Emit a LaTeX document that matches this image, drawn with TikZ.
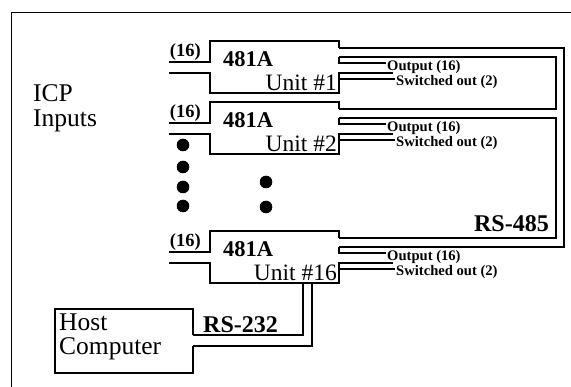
\documentclass[tikz,border=0pt]{standalone}
\usepackage{fontspec}
\setmainfont{Liberation Serif}
\tikzset{
  wire/.style={line width=1.15pt, line join=miter},
  icplbl/.style={inner sep=0pt, font=\fontsize{25.5}{28}\selectfont},
  hostlbl/.style={inner sep=0pt, font=\fontsize{25.5}{28}\selectfont},
  nlbl/.style={inner sep=0pt, font=\bfseries\fontsize{18.5}{20}\selectfont},
  typelbl/.style={inner sep=0pt, font=\bfseries\fontsize{22.5}{24}\selectfont},
  namelbl/.style={inner sep=0pt, font=\fontsize{23.5}{25}\selectfont},
  outlbl/.style={inner sep=0pt, font=\bfseries\fontsize{14.6}{16}\selectfont},
  buslbl/.style={inner sep=0pt, font=\bfseries\fontsize{24}{26}\selectfont},
  dot/.style={fill=black}
}
\newcommand\unitblock[3]{%
  \begin{scope}[shift={(0,#2)}]
    \coordinate (#1-in1) at (169,21);
    \coordinate (#1-in2) at (169,32);
    \coordinate (#1-step) at (339,7);
    \coordinate (#1-out) at (339,16);
    \coordinate (#1-bot) at (339,52);
    \draw[wire] (#1-in1) -- (210,21) -- (210,0) -- (339,0) -- (#1-step);
    \draw[wire] (#1-in2) -- (210,32) -- (210,52) -- (#1-bot) -- (339,32) -- (393,32);
    \draw[wire] (#1-out) -- (339,22) -- (386,22);
    \draw[wire] (339,38) -- (395,38);
    \node[nlbl, anchor=base east] (#1-n16) at (201,16) {(16)};
    \node[typelbl, anchor=base west] (#1-type) at (223,26) {481A};
    \node[namelbl, anchor=base east] (#1-name) at (337,50) {Unit \##3};
    \node[outlbl, anchor=base west] (#1-outl) at (387,30) {Output (16)};
    \node[outlbl, anchor=base west] (#1-swl) at (396,44.5) {Switched out (2)};
  \end{scope}%
}
\begin{document}
\begin{tikzpicture}[x=1pt,y=-1pt]
  \useasboundingbox (0,0) rectangle (571,387);
  % outer frame
  \coordinate (frameBL) at (11.5,387);
  \coordinate (frameTL) at (11.5,12.5);
  \coordinate (frameTR) at (571,12.5);
  \draw[wire] (frameBL) -- (frameTL) -- (frameTR);

  \node[icplbl, anchor=base west] (icp) at (33,102) {ICP};
  \node[icplbl, anchor=base west] (inputs) at (33,127) {Inputs};

  \unitblock{u1}{41}{1}
  \unitblock{u2}{102}{2}
  \unitblock{u16}{231}{16}

  % RS-485 loops
  \coordinate (outerR) at (564,0);
  \coordinate (innerR) at (556,0);
  \draw[wire] (u1-step) -- (u1-step -| outerR) -- (u16-out -| outerR) -- (u16-out);
  \draw[wire] (u1-out) -- (u1-out -| innerR) -- (u2-step -| innerR) -- (u2-step);
  \draw[wire] (u2-out) -- (u2-out -| innerR) -- (u16-step -| innerR) -- (u16-step);
  \node[buslbl, anchor=base east] (rs485) at (549,232) {RS-485};

  % ellipsis dots
  \fill[dot] (183,145) circle (6.3pt);
  \fill[dot] (183,167) circle (6.3pt);
  \fill[dot] (183,187) circle (6.3pt);
  \fill[dot] (183,206) circle (6.3pt);
  \fill[dot] (266,182) circle (6.3pt);
  \fill[dot] (266,207) circle (6.3pt);

  % host computer
  \coordinate (h1) at (193,335);
  \coordinate (h2) at (193,346);
  \coordinate (hA) at (303,283);
  \coordinate (hB) at (312,283);
  \draw[wire] (h1) -- (193,309) -- (55,309) -- (55,373) -- (193,373) -- (h2);
  \draw[wire] (h1) -- (h1 -| hA) -- (hA);
  \draw[wire] (h2) -- (h2 -| hB) -- (hB);
  \node[hostlbl, anchor=base west] (host) at (59,331) {Host};
  \node[hostlbl, anchor=base west] (comp) at (59,355) {Computer};
  \node[buslbl, anchor=base west] (rs232) at (203,333) {RS-232};
\end{tikzpicture}
\end{document}
